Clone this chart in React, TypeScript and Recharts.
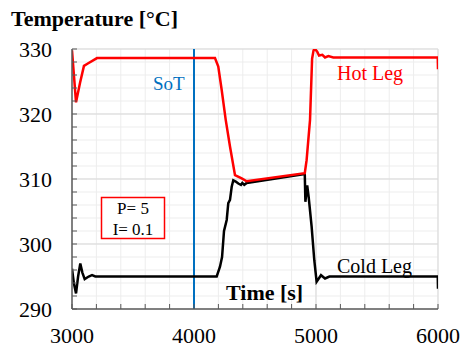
import { LineChart, Line, XAxis, YAxis, CartesianGrid, ReferenceLine } from 'recharts';

// Hot leg (red) temperature trace
const hotTime = [
  3000, 3033, 3066, 3098, 3123, 3205, 3400, 4172, 4199, 4227, 4260, 4295, 4336, 4391,
  4432, 4908, 4923, 4951, 4968, 4980, 4992, 5010, 5025, 5052, 5074, 5101, 5142, 5998, 6000,
];
const hotTemp = [
  329.8, 321.8, 324.8, 327.4, 327.7, 328.6, 328.6, 328.6, 327.3, 323.7, 319.1, 315.0, 310.6, 310.1,
  309.65, 310.9, 312.9, 319.1, 328.5, 329.8, 330.0, 329.6, 329.0, 329.1, 328.7, 328.9, 328.7, 328.7, 326.9,
];

// Cold leg (black) temperature trace
const coldTime = [
  3000, 3015, 3033, 3050, 3068, 3085, 3104, 3137, 3164, 3191, 3400, 4186, 4213, 4230, 4246,
  4268, 4281, 4295, 4309, 4322, 4342, 4363, 4385, 4396, 4412, 4432, 4908, 4913, 4928, 4940,
  4964, 4986, 5005, 5041, 5074, 5110, 5998, 6000,
];
const coldTemp = [
  296.2, 294.0, 292.4, 295.0, 297.0, 295.6, 294.6, 295.0, 295.2, 295.0, 295.0, 295.0, 296.5, 298.0, 302.0,
  303.7, 306.3, 306.8, 308.8, 309.8, 309.6, 309.3, 309.1, 309.4, 309.1, 309.4, 310.75, 306.5, 309.0, 307.2,
  302.7, 297.5, 294.2, 295.2, 294.7, 295.0, 295.0, 293.1,
];

// Axis ticks
const xTicks = [3000, 3200, 3400, 3600, 3800, 4000, 4200, 4400, 4600, 4800, 5000, 5200, 5400, 5600, 5800, 6000];
const xLabels = [3000, 4000, 5000, 6000];
const yTicks = [290, 292, 294, 296, 298, 300, 302, 304, 306, 308, 310, 312, 314, 316, 318, 320, 322, 324, 326, 328, 330];
const yLabels = [290, 300, 310, 320, 330];
const startOfTransient = 4000;

const hotData = hotTime.map((t, i) => ({ t, v: hotTemp[i] }));
const coldData = coldTime.map((t, i) => ({ t, v: coldTemp[i] }));

const SERIF = '"Liberation Serif", "Times New Roman", serif';
const AXIS = '#595959';
const MAJOR_GRID = '#d9d9d9';

function XTick({ x, y, payload }: any) {
  const showLabel = xLabels.includes(payload.value);
  return (
    <g>
      <line x1={x} x2={x} y1={y} y2={y - 5} stroke={AXIS} strokeWidth={1} />
      {showLabel && (
        <text x={x} y={y + 34} textAnchor="middle" fontSize={22} fontFamily={SERIF} fill="#000">
          {payload.value}
        </text>
      )}
    </g>
  );
}

function YTick({ x, y, payload }: any) {
  const showLabel = yLabels.includes(payload.value);
  return (
    <g>
      <line x1={x} x2={x + 5} y1={y} y2={y} stroke={AXIS} strokeWidth={1} />
      {showLabel && (
        <text x={x - 20} y={y + 7.5} textAnchor="end" fontSize={22} fontFamily={SERIF} fill="#000">
          {payload.value}
        </text>
      )}
    </g>
  );
}

export default function App() {
  return (
    <div style={{ position: 'absolute', left: 0, top: 0, width: 460, height: 350, background: '#fff' }}>
      <LineChart width={460} height={350} margin={{ top: 49, right: 22, bottom: 0, left: 0 }}>
        <CartesianGrid stroke="#ededed" strokeWidth={1} />
        <XAxis
          type="number"
          dataKey="t"
          domain={[3000, 6000]}
          ticks={xTicks}
          interval={0}
          allowDataOverflow
          height={41}
          tickSize={0}
          tickMargin={0}
          tickLine={false}
          axisLine={{ stroke: AXIS, strokeWidth: 1.5 }}
          tick={<XTick />}
        />
        <YAxis
          type="number"
          dataKey="v"
          domain={[290, 330]}
          ticks={yTicks}
          interval={0}
          allowDataOverflow
          width={72}
          tickSize={0}
          tickMargin={0}
          tickLine={false}
          axisLine={{ stroke: AXIS, strokeWidth: 1.5 }}
          tick={<YTick />}
        />
        {[4000, 5000, 6000].map((v) => (
          <ReferenceLine key={'x' + v} x={v} stroke={MAJOR_GRID} strokeWidth={1} />
        ))}
        {[300, 310, 320, 330].map((v) => (
          <ReferenceLine key={'y' + v} y={v} stroke={MAJOR_GRID} strokeWidth={1} />
        ))}
        <ReferenceLine x={startOfTransient} stroke="#0070c0" strokeWidth={2} />
        <Line
          data={coldData}
          dataKey="v"
          type="linear"
          stroke="#000"
          strokeWidth={2.5}
          dot={false}
          isAnimationActive={false}
        />
        <Line
          data={hotData}
          dataKey="v"
          type="linear"
          stroke="#ff0000"
          strokeWidth={2.5}
          dot={false}
          isAnimationActive={false}
        />
      </LineChart>
      <svg
        width={460}
        height={350}
        style={{ position: 'absolute', left: 0, top: 0, pointerEvents: 'none' }}
        fontFamily={SERIF}
      >
        <text x={11} y={26} fontSize={22} fontWeight="bold" fill="#000">
          Temperature [°C]
        </text>
        <text x={226} y={300} fontSize={22} fontWeight="bold" fill="#000">
          Time [s]
        </text>
        <text x={153} y={90} fontSize={19} fill="#0070c0">
          SoT
        </text>
        <text x={337} y={80} fontSize={20} fill="#ff0000">
          Hot Leg
        </text>
        <text x={337} y={273} fontSize={20} fill="#000">
          Cold Leg
        </text>
        <rect x={101.5} y={197.5} width={63} height={41} fill="#fff" stroke="#ff0000" strokeWidth={1.5} />
        <text x={133} y={214} fontSize={17} textAnchor="middle" fill="#000">
          P= 5
        </text>
        <text x={133} y={235} fontSize={17} textAnchor="middle" fill="#000">
          I= 0.1
        </text>
      </svg>
    </div>
  );
}
